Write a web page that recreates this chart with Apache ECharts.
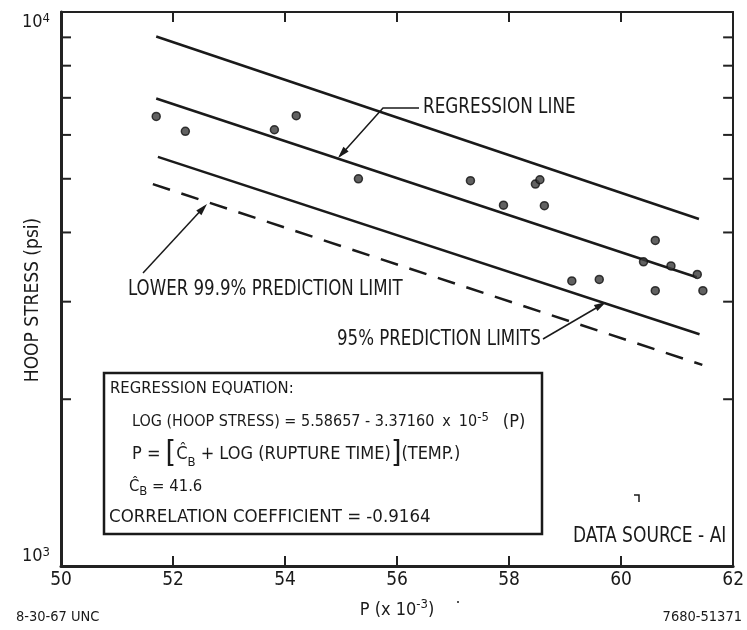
<!DOCTYPE html>
<html>
<head>
<meta charset="utf-8">
<script src="https://cdn.jsdelivr.net/npm/echarts@6.0.0/dist/echarts.min.js"></script>
<style>
html,body{margin:0;padding:0;background:#fff;}
#chart{width:747px;height:630px;}
</style>
</head>
<body>
<div id="chart"></div>
<script>
// ---- data ----
const pointsP = [51.70, 52.22, 53.81, 54.20, 55.31, 57.31, 57.90, 58.47, 58.55, 58.63, 59.12, 59.61, 60.40, 60.61, 60.89, 61.36, 60.61, 61.46];
const pointsStress = [6480, 6090, 6130, 6500, 5000, 4960, 4480, 4890, 4980, 4470, 3270, 3290, 3540, 3870, 3480, 3360, 3140, 3140];

const regP = [51.70, 61.35];
const regS = [6980, 3320];
const upperP = [51.70, 61.39];
const upperS = [9030, 4230];
const lowerP = [51.73, 61.40];
const lowerS = [5475, 2620];
const limitP = [51.64, 61.45];
const limitS = [4890, 2307];

const xMin = 50, xMax = 62, xStep = 2;
const yMin = 1000, yMax = 10000;
const yMinorTicks = [2000, 3000, 4000, 5000, 6000, 7000, 8000, 9000];
const yTickLabels = {1000: '{b|10}{s|3}', 10000: '{b|10}{s|4}'};

// ---- rendering ----
const F = '"Liberation Sans Narrow","DejaVu Sans Condensed","Arial Narrow",sans-serif';
const INK = '#1a1a1a';
const chart = echarts.init(document.getElementById('chart'), null, {renderer: 'canvas'});

function pairs(xs, ys) { return xs.map((x, i) => [x, ys[i]]); }

const minorData = yMinorTicks.map(v => [xMin, v]).concat(yMinorTicks.map(v => [xMax, v]));

function rich(size) {
  return {
    n: {fontFamily: F, fontSize: size, color: INK, lineHeight: size + 6},
    sp: {fontFamily: F, fontSize: size, color: INK, padding: [0, 8, 0, 8]},
    pp: {fontFamily: F, fontSize: size + 2, color: INK, padding: [0, 0, 0, 14]},
    sup: {fontFamily: F, fontSize: 13, color: INK, verticalAlign: 'top', lineHeight: 13},
    sub: {fontFamily: F, fontSize: 13, color: INK, verticalAlign: 'bottom', lineHeight: 13},
    br: {fontFamily: F, fontSize: size + 12, color: INK, lineHeight: size + 12}
  };
}

function txt(x, y, text, size, extra) {
  return Object.assign({
    type: 'text', x: x, y: y, silent: true,
    style: {text: text, rich: rich(size), verticalAlign: 'middle', align: 'left', font: size + 'px ' + F, fill: INK}
  }, extra || {});
}

function seg(pts) {
  return {type: 'polyline', silent: true, shape: {points: pts}, style: {stroke: INK, lineWidth: 1.5, fill: null}};
}
function head(tip, from) {
  const dx = tip[0] - from[0], dy = tip[1] - from[1];
  const L = Math.sqrt(dx * dx + dy * dy), ux = dx / L, uy = dy / L;
  const bx = tip[0] - 12 * ux, by = tip[1] - 12 * uy;
  const px = -uy * 3.5, py = ux * 3.5;
  return {type: 'polygon', silent: true, shape: {points: [tip, [bx + px, by + py], [bx - px, by - py]]}, style: {fill: INK}};
}

const graphics = [
  // text box
  {type: 'rect', silent: true, shape: {x: 104, y: 373, width: 438, height: 161}, style: {stroke: INK, lineWidth: 2.5, fill: '#fff'}, z: 10},
  txt(110, 389, '{n|REGRESSION EQUATION:}', 16.5, {z: 11}),
  txt(132, 422, '{n|LOG (HOOP STRESS) = 5.58657 - 3.37160}{sp|x}{n|10}{sup|-5}{pp|(P)}', 16, {z: 11}),
  txt(132, 454, '{n|P = }{br|[}{n|Ĉ}{sub|B}{n| + LOG (RUPTURE TIME)}{br|]}{n|(TEMP.)}', 18, {z: 11}),
  txt(129, 487, '{n|Ĉ}{sub|B}{n| = 41.6}', 16.5, {z: 11}),
  txt(109, 517, '{n|CORRELATION COEFFICIENT = -0.9164}', 18.5, {z: 11}),
  // annotations
  txt(423, 108, '{n|REGRESSION LINE}', 18.7, {scaleY: 1.1}),
  txt(128, 290, '{n|LOWER 99.9% PREDICTION LIMIT}', 18.5, {scaleY: 1.1}),
  txt(337, 340, '{n|95% PREDICTION LIMITS}', 18.5, {scaleY: 1.1}),
  txt(573, 536, '{n|DATA SOURCE - AI}', 19, {scaleY: 1.15}),
  // y axis title
  {type: 'text', x: 33, y: 300, rotation: Math.PI / 2, silent: true,
    style: {text: 'HOOP STRESS (psi)', font: '19px ' + F, fill: INK, align: 'center', verticalAlign: 'middle'}},
  // footer
  {type: 'text', x: 16, y: 617, silent: true, style: {text: '8-30-67 UNC', font: '14.5px ' + F, fill: INK, verticalAlign: 'middle'}},
  {type: 'text', x: 742, y: 617, silent: true, style: {text: '7680-51371', font: '14.5px ' + F, fill: INK, verticalAlign: 'middle', align: 'right'}},
  // small marks
  {type: 'polyline', silent: true, shape: {points: [[634, 495], [639, 495], [639, 502]]}, style: {stroke: INK, lineWidth: 1.5, fill: null}},
  {type: 'circle', silent: true, shape: {cx: 458, cy: 602, r: 1}, style: {fill: INK}},
  // leaders and arrows
  seg([[419, 108], [383, 108], [340, 156]]),
  head([338, 158], [383, 108]),
  seg([[143, 273], [204, 207]]),
  head([207, 204], [143, 273]),
  seg([[543, 339], [603, 304]]),
  head([606, 302], [543, 339])
];

const option = {
  backgroundColor: '#fff',
  animation: false,
  grid: {left: 61, right: 10, top: 12, bottom: 64, containLabel: false},
  xAxis: [{
    type: 'value', min: xMin, max: xMax, interval: xStep, position: 'bottom',
    name: '{n|P (x 10}{sup|-3}{n|)}', nameLocation: 'middle', nameGap: 32, nameMoveOverlap: false,
    nameTextStyle: {rich: rich(18)},
    axisLine: {show: true, onZero: false, lineStyle: {color: '#222', width: 3}},
    axisTick: {show: true, inside: true, length: 10, lineStyle: {color: '#222', width: 2}},
    axisLabel: {color: INK, fontFamily: F, fontSize: 19, margin: 5, showMinLabel: true, showMaxLabel: true},
    splitLine: {show: false}
  }, {
    type: 'value', min: xMin, max: xMax, interval: xStep, position: 'top',
    axisLine: {show: true, onZero: false, lineStyle: {color: '#222', width: 2}},
    axisTick: {show: true, inside: true, length: 10, lineStyle: {color: '#222', width: 2}},
    axisLabel: {show: false},
    splitLine: {show: false}
  }],
  yAxis: [{
    type: 'log', logBase: 10, min: yMin, max: yMax, position: 'left',
    axisLine: {show: true, onZero: false, lineStyle: {color: '#222', width: 3}},
    axisTick: {show: false},
    axisLabel: {
      margin: 11, showMinLabel: true, showMaxLabel: true,
      verticalAlignMinLabel: 'bottom', verticalAlignMaxLabel: 'top',
      formatter: v => yTickLabels[Math.round(v)] || '',
      rich: {
        b: {fontFamily: F, fontSize: 18, color: INK, lineHeight: 20},
        s: {fontFamily: F, fontSize: 13, color: INK, verticalAlign: 'top', lineHeight: 13}
      }
    },
    splitLine: {show: false}
  }, {
    type: 'log', logBase: 10, min: yMin, max: yMax, position: 'right',
    axisLine: {show: true, onZero: false, lineStyle: {color: '#222', width: 2}},
    axisTick: {show: false}, axisLabel: {show: false}, splitLine: {show: false}
  }],
  series: [
    {
      type: 'custom', xAxisIndex: 0, yAxisIndex: 0, silent: true, clip: false,
      data: minorData,
      renderItem: (params, api) => {
        const p = api.coord([api.value(0), api.value(1)]);
        const dir = api.value(0) === xMin ? 1 : -1;
        return {type: 'line', shape: {x1: p[0], y1: p[1], x2: p[0] + dir * 10, y2: p[1]}, style: {stroke: '#222', lineWidth: 2}};
      }
    },
    {type: 'line', data: pairs(upperP, upperS), symbol: 'none', lineStyle: {color: INK, width: 2.5}, silent: true},
    {type: 'line', data: pairs(regP, regS), symbol: 'none', lineStyle: {color: INK, width: 2.5}, silent: true},
    {type: 'line', data: pairs(lowerP, lowerS), symbol: 'none', lineStyle: {color: INK, width: 2.5}, silent: true},
    {type: 'line', data: pairs(limitP, limitS), symbol: 'none', lineStyle: {color: INK, width: 2.5, type: [18, 12]}, silent: true},
    {type: 'scatter', data: pairs(pointsP, pointsStress), symbol: 'circle', symbolSize: 8,
      itemStyle: {color: '#3a3a3a', borderColor: '#111', borderWidth: 1.5}, silent: true, z: 5}
  ],
  graphic: graphics
};
chart.setOption(option);
</script>
</body>
</html>
